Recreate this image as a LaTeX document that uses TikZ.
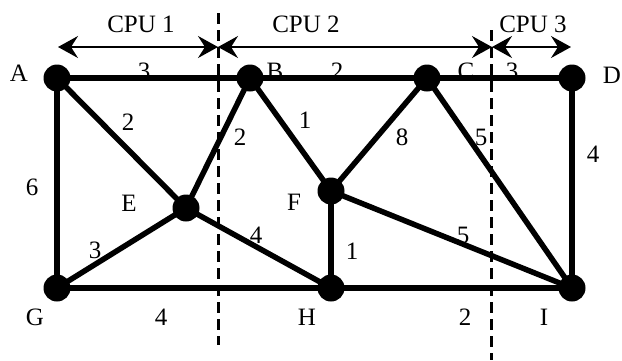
\documentclass[tikz,border=0pt]{standalone}
\usepackage{fontspec}
\setmainfont{Liberation Serif}
\usetikzlibrary{arrows.meta}
\begin{document}
\begin{tikzpicture}[x=1pt,y=-1pt,
  dot/.style={circle,fill=black,inner sep=0pt,minimum size=27pt},
  edge/.style={line width=5.5pt},
  cut/.style={line width=3pt,dash pattern=on 11pt off 6pt},
  span/.style={line width=2pt,{Stealth[length=20pt,width=22pt,inset=7pt]}-{Stealth[length=20pt,width=22pt,inset=7pt]}},
  lbl/.style={inner sep=0pt,font=\fontsize{25}{30}\selectfont}]
\useasboundingbox (0,0) rectangle (622,360);
% vertex positions
\coordinate (A) at (57,78);
\coordinate (B) at (250,78);
\coordinate (C) at (427,78);
\coordinate (D) at (572,78);
\coordinate (E) at (186,208);
\coordinate (F) at (331,191);
\coordinate (G) at (57,288);
\coordinate (H) at (331,288);
\coordinate (I) at (572,288);
% partition cuts
\coordinate (c1t) at (218,13);
\coordinate (c1b) at (218,345);
\coordinate (c2t) at (491,30);
\coordinate (c2b) at (491,360);
\draw[cut] (c1t) -- (c1b);
\draw[cut] (c2t) -- (c2b);
% CPU spans
\coordinate (s0) at (58,47);
\coordinate (s1) at (218,47);
\coordinate (s2) at (492,47);
\coordinate (s3) at (571,47);
\draw[span] (s0) -- (s1);
\draw[span] (s1) -- (s2);
\draw[span] (s2) -- (s3);
\node[lbl] (cpu1) at (141,24) {CPU 1};
\node[lbl] (cpu2) at (306,24) {CPU 2};
\node[lbl] (cpu3) at (533,24) {CPU 3};
% vertex labels
\node[lbl] (lA) at (19,73) {A};
\node[lbl] (lB) at (275,71) {B};
\node[lbl] (lC) at (466,71) {C};
\node[lbl] (lD) at (612,75) {D};
\node[lbl] (lE) at (129,203) {E};
\node[lbl] (lF) at (294,202) {F};
\node[lbl] (lG) at (35,317) {G};
\node[lbl] (lH) at (307,317) {H};
\node[lbl] (lI) at (544,317) {I};
% weights
\node[lbl] (wAB) at (144,71) {3};
\node[lbl] (wBC) at (337,71) {2};
\node[lbl] (wCD) at (512,71) {3};
\node[lbl] (wAE) at (128,122) {2};
\node[lbl] (wEB) at (240,137) {2};
\node[lbl] (wBF) at (305,120) {1};
\node[lbl] (wCF) at (402,137) {8};
\node[lbl] (wCI) at (481,137) {5};
\node[lbl] (wDI) at (593,154) {4};
\node[lbl] (wAG) at (32,187) {6};
\node[lbl] (wGE) at (95,250) {3};
\node[lbl] (wEH) at (256,235) {4};
\node[lbl] (wFH) at (352,251) {1};
\node[lbl] (wFI) at (463,235) {5};
\node[lbl] (wGH) at (161,317) {4};
\node[lbl] (wHI) at (465,317) {2};
% edges
\draw[edge] (A) -- (B);
\draw[edge] (B) -- (C);
\draw[edge] (C) -- (D);
\draw[edge] (A) -- (E);
\draw[edge] (E) -- (B);
\draw[edge] (B) -- (F);
\draw[edge] (C) -- (F);
\draw[edge] (C) -- (I);
\draw[edge] (D) -- (I);
\draw[edge] (A) -- (G);
\draw[edge] (G) -- (E);
\draw[edge] (E) -- (H);
\draw[edge] (F) -- (H);
\draw[edge] (F) -- (I);
\draw[edge] (G) -- (H);
\draw[edge] (H) -- (I);
% vertices
\foreach \v in {A,B,C,D,E,F,G,H,I}
  \node[dot] (d\v) at (\v) {};
\end{tikzpicture}
\end{document}
